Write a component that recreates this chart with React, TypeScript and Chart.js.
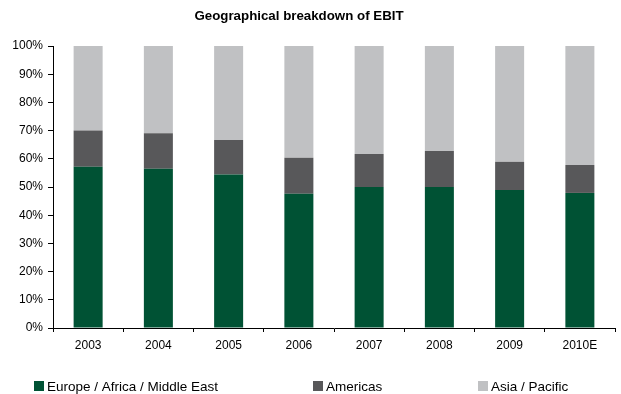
import React, { useEffect, useRef } from "react";
import { Chart, registerables } from "chart.js";

Chart.register(...registerables);

const years = ["2003", "2004", "2005", "2006", "2007", "2008", "2009", "2010E"];
const europeAfricaMiddleEast = [57.2, 56.5, 54.4, 47.6, 50.0, 50.0, 48.9, 47.9];
const americas = [12.8, 12.6, 12.3, 12.8, 11.7, 12.8, 10.0, 9.9];
const asiaPacific = [30.0, 30.9, 33.3, 39.6, 38.3, 37.2, 41.1, 42.2];
const yTicks = [0, 10, 20, 30, 40, 50, 60, 70, 80, 90, 100];

const seriesNames = ["Europe / Africa / Middle East", "Americas", "Asia / Pacific"];
const seriesColors = ["#005234", "#58585A", "#C0C1C3"];
const titleText = "Geographical breakdown of EBIT";

const FONT = "'Liberation Sans', Arial, Helvetica, sans-serif";

// Title and legend are painted at fixed spots above and below the plot.
const overlayPlugin = {
  id: "overlay",
  afterDraw(chart: any) {
    const ctx = chart.ctx;
    ctx.save();
    ctx.fillStyle = "#000";
    ctx.font = `bold 13.3px ${FONT}`;
    ctx.textAlign = "center";
    ctx.textBaseline = "middle";
    ctx.fillText(titleText, 299, 16);

    const legendX = [34, 313, 478];
    const legendY = 386;
    ctx.font = `13.5px ${FONT}`;
    ctx.textAlign = "left";
    chart.data.datasets.forEach((ds: any, i: number) => {
      ctx.fillStyle = ds.backgroundColor;
      ctx.fillRect(legendX[i], legendY - 5, 10, 10);
      ctx.fillStyle = "#000";
      ctx.fillText(ds.label, legendX[i] + 13, legendY + 1);
    });
    ctx.restore();
  },
};

export default function App() {
  const canvasRef = useRef<HTMLCanvasElement | null>(null);

  useEffect(() => {
    document.body.style.margin = "0";
    const canvas = canvasRef.current;
    if (!canvas) return;
    const chart = new Chart(canvas, {
      type: "bar",
      data: {
        labels: years,
        datasets: [europeAfricaMiddleEast, americas, asiaPacific].map((d, i) => ({
          label: seriesNames[i],
          data: d,
          backgroundColor: seriesColors[i],
          borderWidth: 0,
          barPercentage: 0.413,
          categoryPercentage: 1,
        })),
      },
      options: {
        responsive: false,
        animation: false,
        layout: { padding: { left: 0, right: 6, top: 46, bottom: 0 } },
        plugins: {
          legend: { display: false },
          title: { display: false },
          tooltip: { enabled: false },
        },
        scales: {
          x: {
            stacked: true,
            afterFit: (scale: any) => {
              scale.height = 66;
            },
            grid: {
              offset: true,
              drawOnChartArea: false,
              drawTicks: true,
              tickLength: 4,
              color: "#000",
            },
            border: { display: true, color: "#000", width: 1 },
            ticks: {
              color: "#000",
              font: { family: FONT, size: 12 },
              padding: 6,
              maxRotation: 0,
            },
          },
          y: {
            stacked: true,
            min: 0,
            max: 100,
            afterFit: (scale: any) => {
              scale.width = 53;
            },
            afterBuildTicks: (scale: any) => {
              scale.ticks = yTicks.map((v) => ({ value: v }));
            },
            grid: {
              drawOnChartArea: false,
              drawTicks: true,
              tickLength: 5,
              color: "#000",
            },
            border: { display: true, color: "#000", width: 1 },
            ticks: {
              color: "#000",
              font: { family: FONT, size: 12 },
              padding: 5,
              callback: (v: any) => `${v}%`,
            },
          },
        },
      },
      plugins: [overlayPlugin],
    });
    return () => chart.destroy();
  }, []);

  return (
    <div style={{ width: 621, height: 394, background: "#fff" }}>
      <canvas ref={canvasRef} width={621} height={394} />
    </div>
  );
}
